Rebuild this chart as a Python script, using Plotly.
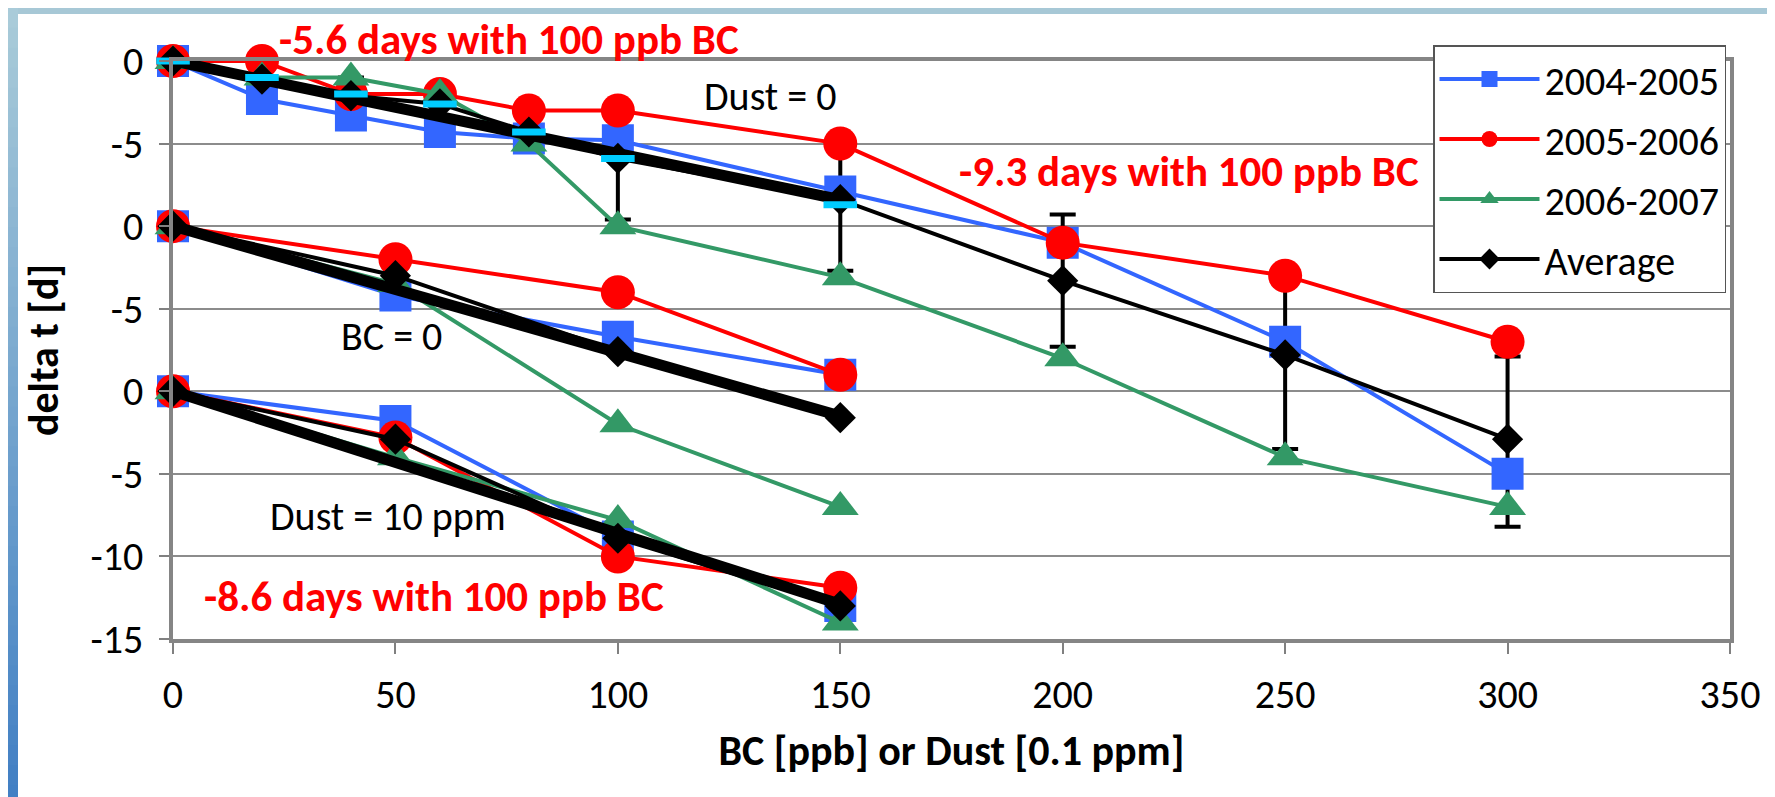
import plotly.graph_objects as go

# ---------------- data (relative delta t in days) ----------------
x_top = [0, 20, 40, 60, 80, 100, 150, 200, 250, 300]
blue_top = [0, -2.3, -3.3, -4.3, -4.7, -4.8, -7.9, -11, -17, -25]
red_top = [0, 0, -2, -2, -3, -3, -5, -11, -13, -17]
green_top = [0, -1, -1, -2, -5, -10, -13.1, -18, -24, -27]
avg_top = [0, -1.1, -2.1, -2.6, -4.3, -5.9, -8.4, -13.3, -17.8, -22.9]
avg_top_err_plus = [0, 0, 1.1, 0, 0, 2.9, 3.4, 4.0, 4.8, 5.0]
avg_top_err_minus = [0, 0, 1.1, 0, 0, 3.7, 4.3, 4.0, 5.7, 5.3]
x_cyan = [0, 20, 40, 60, 80, 100, 150]
cyan_top = [0, -1.0, -2.0, -2.6, -4.3, -5.9, -8.7]

x_mid = [0, 50, 100, 150]
blue_mid = [0, -4.2, -6.7, -9]
red_mid = [0, -2, -4, -9]
green_mid = [0, -3.5, -12, -17]
avg_mid = [0, -3.0, -7.6, -11.6]

x_bot = [0, 50, 100, 150]
blue_bot = [0, -1.8, -8.8, -13]
red_bot = [0, -2.8, -10, -11.9]
green_bot = [0, -4, -7.8, -14]
avg_bot = [0, -2.9, -8.9, -13]

x_fit = [0, 150]
fit_top = [0, -8.4]
fit_mid = [0, -11.5]
fit_bot = [0, -12.9]

series_names = ["2004-2005", "2005-2006", "2006-2007", "Average"]
y_tickvals = [-15, -10, -5, 0, 5, 10, 15, 20]
y_ticktext = ["-15", "-10", "-5", "0", "-5", "0", "-5", "0"]

# panel offsets (vertical stacking of the three panels on one axis)
OFF_TOP, OFF_MID, OFF_BOT = 20, 10, 0

# ---------------- styling ----------------
BLUE = "#3366FF"
RED = "#FF0000"
GREEN = "#339966"
BLACK = "#000000"
CAL = "Carlito, 'Liberation Sans Narrow', 'Roboto Condensed', Roboto, sans-serif"

styles = {
    "2004-2005": dict(color=BLUE, symbol="square", size=32),
    "2005-2006": dict(color=RED, symbol="circle", size=34),
    "2006-2007": dict(color=GREEN, symbol="triangle-up", size=32),
    "Average": dict(color=BLACK, symbol="diamond", size=24),
}


def off(vals, o):
    return [v + o for v in vals]


fig = go.Figure()

# error bars of the top-panel average, drawn first so that markers cover them
fig.add_trace(go.Scatter(
    x=x_top, y=off(avg_top, OFF_TOP), mode="markers",
    marker=dict(size=1, color="rgba(0,0,0,0)"), showlegend=False, hoverinfo="skip",
    error_y=dict(type="data", array=avg_top_err_plus, arrayminus=avg_top_err_minus,
                 symmetric=False, color=BLACK, thickness=4, width=13),
    cliponaxis=False))

panels = [
    (x_top, [blue_top, red_top, green_top, avg_top], OFF_TOP, True),
    (x_mid, [blue_mid, red_mid, green_mid, avg_mid], OFF_MID, False),
    (x_bot, [blue_bot, red_bot, green_bot, avg_bot], OFF_BOT, False),
]

for xs, ys_list, o, show in panels:
    for name, ys in zip(series_names, ys_list):
        st = styles[name]
        fig.add_trace(go.Scatter(
            x=xs, y=off(ys, o), mode="lines+markers", name=name,
            legendgroup=name, showlegend=show,
            line=dict(color=st["color"], width=4),
            marker=dict(color=st["color"], symbol=st["symbol"], size=st["size"]),
            cliponaxis=False))

# thick black linear-fit lines
for fv, o in [(fit_top, OFF_TOP), (fit_mid, OFF_MID), (fit_bot, OFF_BOT)]:
    fig.add_trace(go.Scatter(x=x_fit, y=off(fv, o), mode="lines",
                             line=dict(color=BLACK, width=11), showlegend=False,
                             hoverinfo="skip", cliponaxis=False))

# cyan dash markers on the top panel
fig.add_trace(go.Scatter(x=x_cyan, y=off(cyan_top, OFF_TOP), mode="markers",
                         marker=dict(symbol="line-ew", size=24,
                                     line=dict(color="#00CCFF", width=7)),
                         showlegend=False, cliponaxis=False))

# ---------------- geometry helpers ----------------
L, R, T, B = 165, 1722, 53, 631
PW, PH = R - L, B - T


def px(xp):
    return (xp - L) / PW


def py(yp):
    return (B - yp) / PH


# ---------------- annotations (pixel centres -> paper coords) ----------------
ann = [
    ("-5.6 days with 100 ppb BC", 501, 31, RED, True),
    ("-9.3 days with 100 ppb BC", 1181, 163, RED, True),
    ("-8.6 days with 100 ppb BC", 426, 588, RED, True),
    ("Dust = 0", 762, 88, BLACK, False),
    ("BC = 0", 383, 328, BLACK, False),
    ("Dust = 10 ppm", 380, 508, BLACK, False),
]
for txt, cx, cy, col, bold in ann:
    fig.add_annotation(x=px(cx), y=py(cy), xref="paper", yref="paper",
                       xanchor="center", yanchor="middle",
                       text=f"<b>{txt}</b>" if bold else txt,
                       showarrow=False, font=dict(family=CAL, size=43 if bold else 40, color=col))

# ---------------- slide background strips ----------------
shapes = []
shapes.append(dict(type="rect", xref="paper", yref="paper", x0=px(0), x1=px(1775),
                   y0=py(0), y1=py(6), fillcolor="#A7C8D6", line=dict(width=0), layer="below"))
N = 40
c0 = (169, 203, 217)
c1 = (66, 128, 196)
for i in range(N):
    t = i / (N - 1)
    c = tuple(int(c0[k] + (c1[k] - c0[k]) * t) for k in range(3))
    shapes.append(dict(type="rect", xref="paper", yref="paper", x0=px(0), x1=px(10),
                       y0=py(797 * i / N), y1=py(797 * (i + 1) / N + 1),
                       fillcolor="rgb(%d,%d,%d)" % c, line=dict(width=0), layer="below"))

fig.update_layout(
    width=1775, height=797, autosize=False,
    margin=dict(l=L, r=1775 - R, t=T, b=797 - B),
    paper_bgcolor="white", plot_bgcolor="white",
    shapes=shapes,
    showlegend=True,
    legend=dict(x=px(1425), y=py(37), xanchor="left", yanchor="top",
                bgcolor="white", bordercolor="#555555", borderwidth=1.5,
                font=dict(family=CAL, size=40, color=BLACK), tracegroupgap=5,
                itemwidth=100),
    xaxis=dict(range=[0, 350], tick0=0, dtick=50, ticks="outside", ticklen=11,
               tickwidth=1.5, tickcolor="#808080", showline=True, linecolor="#858585",
               linewidth=3.5, mirror=True, showgrid=False, zeroline=False,
               tickfont=dict(family=CAL, size=40, color=BLACK), ticklabelstandoff=6,
               title=dict(text="<b>BC [ppb] or Dust [0.1 ppm]</b>", standoff=19,
                          font=dict(family=CAL, size=42, color=BLACK))),
    yaxis=dict(range=[-15, 20], tickvals=y_tickvals, ticktext=y_ticktext,
               ticks="outside", ticklen=10, tickwidth=1.5, tickcolor="#808080",
               showline=True, linecolor="#858585", linewidth=3.5, mirror=True,
               showgrid=True, gridcolor="#8C8C8C", gridwidth=1.5, zeroline=False,
               tickfont=dict(family=CAL, size=40, color=BLACK), ticklabelstandoff=8,
               title=dict(text="<b>delta t [d]</b>", standoff=20,
                          font=dict(family=CAL, size=42, color=BLACK))),
)

fig.write_html("out.html")
